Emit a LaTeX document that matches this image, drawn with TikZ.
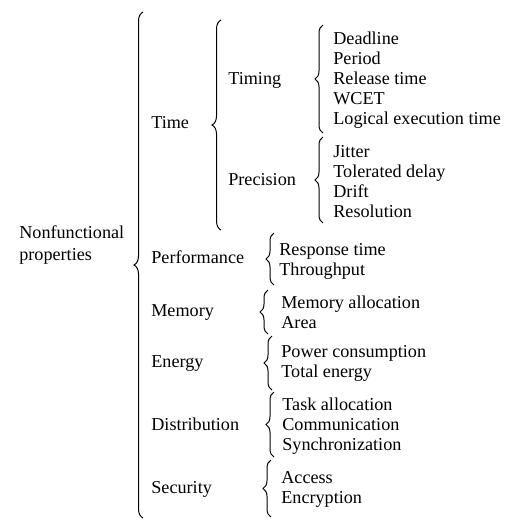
\documentclass[tikz,border=0pt]{standalone}
\usepackage{fontspec}
\setmainfont{Liberation Serif}
\usetikzlibrary{decorations.pathreplacing}

\begin{document}
\begin{tikzpicture}[x=0.6pt,y=-0.6pt,
  brc/.style={decorate,decoration={brace,amplitude=#1},line width=0.6pt},
  brc/.default=4.8pt,
  lbl/.style={anchor=base west,inner sep=0pt,font=\fontsize{10.9}{13}\selectfont}]
\useasboundingbox (0,0) rectangle (522,521);
% root
\node[lbl,align=left] (root) at (19,260) {Nonfunctional\\properties};
\draw[brc=5.4pt] (143,518)--(143,12);
% first level
\node[lbl] (time) at (151,128) {Time};
\node[lbl] (perf) at (151,263) {Performance};
\node[lbl] (mem) at (151,316) {Memory};
\node[lbl] (energy) at (151,367) {Energy};
\node[lbl] (dist) at (151,430) {Distribution};
\node[lbl] (sec) at (151,493) {Security};
% time
\draw[brc=5.4pt] (221,230)--(221,20);
\node[lbl] (timing) at (228,84) {Timing};
\node[lbl] (prec) at (228,185) {Precision};
\draw[brc] (323,133)--(323,25);
\draw[brc] (323,223)--(323,137);
\foreach \t [count=\i] in {Deadline,Period,Release time,WCET,Logical execution time}
  \node[lbl] (timing\i) at (333,{24+20*\i}) {\t};
\foreach \t [count=\i] in {Jitter,Tolerated delay,Drift,Resolution}
  \node[lbl] (prec\i) at (333,{137+20*\i}) {\t};
% other groups
\draw[brc] (274,285)--(274,233);
\foreach \t [count=\i] in {Response time,Throughput}
  \node[lbl] (perf\i) at (279,{235+20*\i}) {\t};
\draw[brc] (268,334)--(268,290);
\foreach \t [count=\i] in {Memory allocation,Area}
  \node[lbl] (mem\i) at (281,{288+20*\i}) {\t};
\draw[brc] (272,390)--(272,336);
\foreach \t [count=\i] in {Power consumption,Total energy}
  \node[lbl] (energy\i) at (281,{337+20*\i}) {\t};
\draw[brc] (274,457)--(274,392);
\foreach \t [count=\i] in {Task allocation,Communication,Synchronization}
  \node[lbl] (dist\i) at (282,{390+20*\i}) {\t};
\draw[brc] (271,517)--(271,460);
\foreach \t [count=\i] in {Access,Encryption}
  \node[lbl] (sec\i) at (281,{463+20*\i}) {\t};
\end{tikzpicture}
\end{document}
